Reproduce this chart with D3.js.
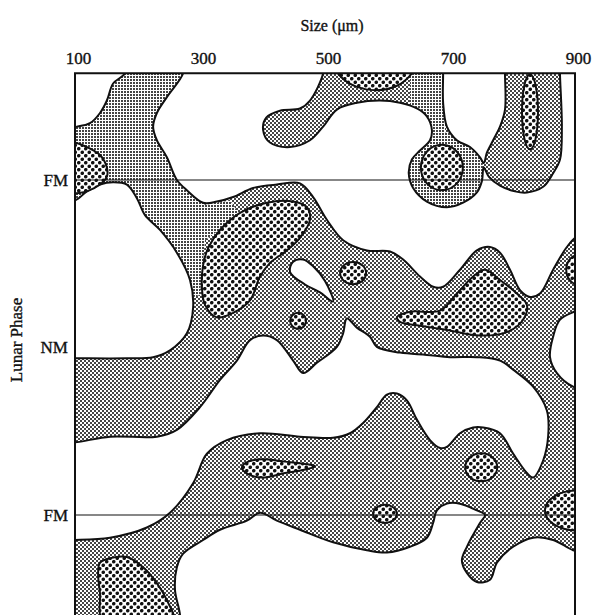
<!DOCTYPE html>
<html>
<head>
<meta charset="utf-8">
<script src="https://cdn.jsdelivr.net/npm/d3@7"></script>
<style>
body{margin:0;background:#fff;}
text{font-family:"Liberation Serif","DejaVu Serif",serif;fill:#111;stroke:#111;stroke-width:0.35px;}
</style>
</head>
<body>
<svg></svg>
<script>
// axes
const sizeTicks = [100, 300, 500, 700, 900];
const sizeExtent = [100, 900];
const phaseTicks = [0, 14.75, 29.5];
const phaseLabels = ['FM', 'NM', 'FM'];
const fullMoons = [0, 29.5];
const phaseExtent = [-9.4, 40];

// outlines, [size (um), days after full moon]
const hatchAreas = [
	[[76,-10.6],[276,-10.6],[276,-7.5],[236,-4.7],[260,-0.4],[308,2.2],[348,1.8],[364,3.1],[308,5.3],[300,10.1],[276,10.6],[220,5.3],[76,2.6]],
	[[636,-10.6],[692,-10.6],[692,-3.5],[636,-3.5]]
];
const hatchRings = [[694,-0.9,59,3.3]];

const emptyAreas = [
	[[182,-10.6],[180,-9.4],[161,-8.5],[151,-7.0],[140,-5.9],[124,-5.0],[103,-4.7],[76,-4.6],[76,-10.6]],
	[[273,-10.4],[497,-10.4],[497,-9.4],[476,-7.0],[460,-6.3],[428,-6.1],[406,-5.5],[401,-4.4],[412,-3.3],[444,-2.9],[476,-3.5],[497,-4.7],[519,-6.2],[551,-6.8],[588,-7.0],[620,-6.8],[647,-6.3],[663,-5.6],[671,-4.4],[668,-3.5],[652,-2.6],[639,-1.8],[634,-0.6],[641,0.7],[663,1.9],[695,2.4],[721,2.0],[743,1.1],[751,0.1],[754,-1.1],[762,-0.3],[780,0.5],[804,1.0],[823,1.1],[849,0.6],[865,-0.6],[876,-1.8],[879,-4.7],[876,-9.3],[876,-10.4],[924,-10.4],[924,5.0],[903,5.0],[887,5.9],[865,7.9],[844,10.0],[828,10.3],[812,9.7],[796,7.9],[780,6.4],[764,5.9],[743,6.2],[716,7.9],[689,9.4],[673,9.4],[652,8.5],[625,7.0],[604,6.3],[567,6.2],[529,5.3],[503,3.5],[481,1.5],[460,0.3],[423,0.4],[385,0.7],[353,1.5],[327,1.9],[305,2.0],[279,0.9],[263,0],[247,-2.0],[231,-3.5],[225,-4.7],[231,-5.9],[247,-7.3],[273,-9.4]],
	[[689,-10.4],[689,-9.3],[689,-6.8],[695,-4.7],[711,-3.5],[732,-2.9],[748,-2.0],[754,-1.5],[759,-2.4],[769,-3.5],[780,-4.7],[788,-6.2],[788,-9.3],[788,-10.4]],
	[[76,1.8],[100,1.8],[119,1.0],[140,0.4],[161,0.2],[183,0.4],[199,1.6],[212,3.1],[236,4.4],[263,6.4],[284,8.8],[289,11.2],[279,13.5],[252,15.0],[225,15.6],[183,15.7],[100,15.7],[76,15.7]],
	[[444,8.1],[449,7.2],[465,7.0],[481,7.6],[500,8.9],[513,10.7],[492,9.9],[468,9.2]],
	[[76,23.1],[100,23.1],[156,22.6],[231,22.6],[263,22.0],[300,20.0],[332,17.6],[359,15.9],[380,14.1],[401,13.7],[423,14.1],[449,15.9],[465,17.0],[487,16.1],[519,14.7],[529,13.5],[535,12.2],[551,13.0],[572,13.8],[583,14.7],[620,15.2],[663,15.4],[700,15.6],[743,15.6],[780,15.9],[801,16.7],[833,18.2],[855,20.3],[857,22.6],[849,24.7],[833,26.2],[823,25.8],[801,24.1],[780,22.3],[753,21.8],[737,21.8],[716,22.3],[695,23.5],[684,23.6],[668,22.9],[647,21.1],[631,19.4],[615,18.8],[599,18.9],[583,20.0],[561,21.4],[540,22.3],[513,22.7],[460,22.6],[396,22.3],[343,22.9],[311,24.1],[289,26.7],[252,29.3],[215,30.6],[156,31.5],[100,31.7],[76,31.7]],
	[[924,11.0],[903,11.5],[876,12.3],[865,13.8],[860,15.6],[871,17.0],[897,18.2],[924,18.5]],
	[[268,40.5],[268,38.3],[260,36.1],[263,34.1],[273,32.9],[305,31.7],[332,30.8],[375,30.0],[396,29.3],[423,30.0],[460,30.8],[513,31.9],[567,32.6],[599,32.8],[636,32.3],[663,31.5],[673,30.2],[679,29.1],[695,28.5],[716,28.5],[743,29.1],[756,29.5],[748,30.2],[727,32.3],[719,33.5],[727,34.6],[743,35.4],[764,35.2],[775,33.7],[801,32.3],[833,31.5],[865,31.7],[897,32.6],[924,33.0],[924,40.5]]
];

const peakAreas = [
	[[84,-3.5],[100,-3.3],[119,-2.9],[140,-2.2],[151,-1.1],[151,-0.3],[140,0.4],[119,1.0],[100,1.2],[84,1.4]],
	[[516,-10.0],[527,-9.0],[551,-8.2],[583,-7.9],[615,-8.3],[636,-9.2],[644,-10.0],[580,-10.6]],
	[[303,9.4],[305,7.5],[313,6.0],[332,4.4],[364,2.9],[407,2.0],[449,1.9],[471,2.4],[476,3.5],[460,5.1],[439,6.2],[412,7.3],[396,8.5],[380,10.6],[353,11.7],[327,12.1],[308,11.0]],
	[[615,12.1],[636,11.6],[684,11.5],[711,10.0],[737,8.5],[756,7.9],[780,8.8],[807,10.0],[823,11.0],[817,12.3],[791,13.4],[748,13.7],[695,13.2],[647,12.8],[620,12.5]],
	[[367,25.3],[377,24.8],[399,24.6],[436,24.8],[468,25.0],[484,25.2],[468,25.5],[436,25.8],[399,26.2],[377,25.9]],
	[[137,34.6],[140,33.7],[156,33.3],[183,33.2],[209,34.1],[231,35.5],[247,37.0],[257,38.8],[145,38.8],[140,36.4]]
];
// [size, day, size radius, day radius]
const peakSpots = [
	[687,-1.1,33.6,2.0],
	[828,-6.0,12.8,3.3],
	[457,12.4,12.8,0.7],
	[545,8.2,20.8,0.97],
	[905,7.9,19,1.3],
	[750,25.3,25.6,1.23],
	[596,29.4,19,0.8],
	[903,29.1,51,1.76]
];

const width = 597;
const height = 615;

const x = d3.scaleLinear().domain(sizeExtent).range([75, 575]);
const y = d3.scaleLinear().domain([0, 29.5]).range([180, 515]);

const svg = d3.select('svg').attr('width', width).attr('height', height);
const defs = svg.append('defs');

// textures
var p = defs.append('pattern').attr('id', 'stipple')
	.attr('width', 4).attr('height', 4).attr('patternUnits', 'userSpaceOnUse');
p.append('rect').attr('width', 4).attr('height', 4).attr('fill', '#fff');
p.append('rect').attr('width', 2).attr('height', 2).attr('fill', '#454545');
p.append('rect').attr('x', 2).attr('y', 2).attr('width', 2).attr('height', 2).attr('fill', '#454545');

p = defs.append('pattern').attr('id', 'hatch')
	.attr('width', 3).attr('height', 3).attr('patternUnits', 'userSpaceOnUse');
p.append('rect').attr('width', 3).attr('height', 3).attr('fill', '#fff');
p.append('rect').attr('x', 1).attr('y', 1).attr('width', 2).attr('height', 2).attr('fill', '#444');

p = defs.append('pattern').attr('id', 'dots')
	.attr('width', 7).attr('height', 7).attr('patternUnits', 'userSpaceOnUse');
p.append('rect').attr('width', 7).attr('height', 7).attr('fill', '#fff');
p.append('circle').attr('cx', 1.75).attr('cy', 1.75).attr('r', 1.8).attr('fill', '#111');
p.append('circle').attr('cx', 5.25).attr('cy', 5.25).attr('r', 1.8).attr('fill', '#111');

const x0 = x(sizeExtent[0]), x1 = x(sizeExtent[1]);
const y0 = y(phaseExtent[0]), y1 = y(phaseExtent[1]);

defs.append('clipPath').attr('id', 'box')
	.append('rect').attr('x', x0).attr('y', y0).attr('width', x1 - x0).attr('height', y1 - y0);

const plot = svg.append('g').attr('clip-path', 'url(#box)');

const blob = d3.line()
	.x(d => x(d[0])).y(d => y(d[1]))
	.curve(d3.curveCatmullRomClosed.alpha(0.5));
const poly = d3.line()
	.x(d => x(d[0])).y(d => y(d[1]))
	.curve(d3.curveLinearClosed);

// medium level everywhere, then the rest on top
plot.append('rect')
	.attr('x', x0).attr('y', y0).attr('width', x1 - x0).attr('height', y1 - y0)
	.attr('fill', 'url(#stipple)');

plot.selectAll('path.hatch').data(hatchAreas).enter().append('path')
	.classed('hatch', true)
	.attr('d', poly).attr('fill', 'url(#hatch)');
plot.selectAll('ellipse.hatch').data(hatchRings).enter().append('ellipse')
	.classed('hatch', true)
	.attr('cx', d => x(d[0])).attr('cy', d => y(d[1]))
	.attr('rx', d => x(sizeExtent[0] + d[2]) - x0)
	.attr('ry', d => y(d[3]) - y(0))
	.attr('fill', 'url(#hatch)');

plot.selectAll('path.empty').data(emptyAreas).enter().append('path')
	.classed('empty', true)
	.attr('d', blob)
	.attr('fill', '#fff').attr('stroke', '#111').attr('stroke-width', 2);

plot.selectAll('path.peak').data(peakAreas).enter().append('path')
	.classed('peak', true)
	.attr('d', blob)
	.attr('fill', 'url(#dots)').attr('stroke', '#111').attr('stroke-width', 2);

plot.selectAll('ellipse.peak').data(peakSpots).enter().append('ellipse')
	.classed('peak', true)
	.attr('cx', d => x(d[0])).attr('cy', d => y(d[1]))
	.attr('rx', d => x(sizeExtent[0] + d[2]) - x0)
	.attr('ry', d => y(d[3]) - y(0))
	.attr('fill', 'url(#dots)').attr('stroke', '#111').attr('stroke-width', 2);

// full moon lines
plot.selectAll('line.moon').data(fullMoons).enter().append('line')
	.classed('moon', true)
	.attr('x1', x0).attr('x2', x1)
	.attr('y1', d => y(d)).attr('y2', d => y(d))
	.attr('stroke', '#111').attr('stroke-width', 1.2);

// frame, bottom runs off the page
svg.append('path')
	.attr('d', 'M' + x0 + ',' + y1 + 'V' + y0 + 'H' + x1 + 'V' + y1)
	.attr('fill', 'none').attr('stroke', '#111').attr('stroke-width', 2);

svg.append('g')
	.attr('transform', 'translate(3,' + y0 + ')')
	.call(d3.axisTop(x).tickValues(sizeTicks).tickSize(0).tickPadding(9))
	.call(g => g.select('.domain').remove())
	.selectAll('text')
	.style('font-family', '"Liberation Serif", serif')
	.style('font-size', '17px').attr('fill', '#111');

svg.append('g')
	.attr('transform', 'translate(' + x0 + ',0)')
	.call(d3.axisLeft(y).tickValues(phaseTicks).tickFormat((d, i) => phaseLabels[i]).tickSize(0).tickPadding(7))
	.call(g => g.select('.domain').remove())
	.selectAll('text')
	.style('font-family', '"Liberation Serif", serif')
	.style('font-size', '17px').attr('fill', '#111');

svg.append('text')
	.attr('x', 332).attr('y', 31)
	.attr('text-anchor', 'middle')
	.style('font-size', '16px')
	.text('Size (\u03bcm)');

svg.append('text')
	.attr('transform', 'translate(22,340) rotate(-90)')
	.attr('text-anchor', 'middle')
	.style('font-size', '17px')
	.text('Lunar Phase');
</script>
</body>
</html>
